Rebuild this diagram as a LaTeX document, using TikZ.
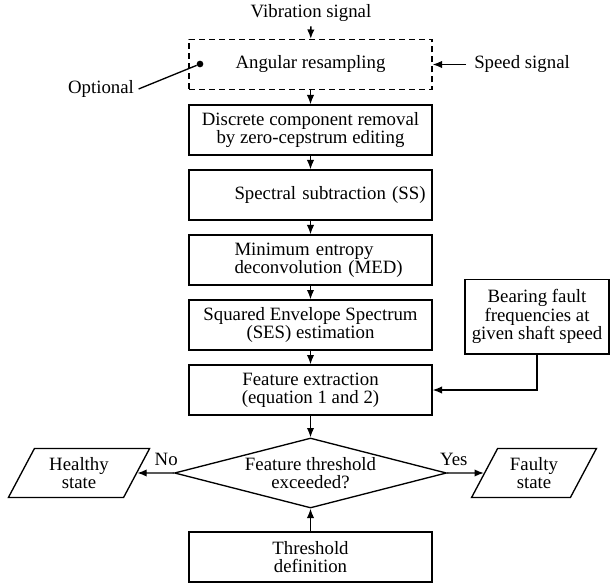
\documentclass[tikz,border=0pt]{standalone}
\usepackage{fontspec}
\setmainfont{Liberation Serif}
\usetikzlibrary{arrows.meta,shapes.geometric,positioning}

\begin{document}
\begin{tikzpicture}[x=0.75pt,y=-0.75pt,
every node/.style={font=\fontsize{14.1}{13.7}\selectfont},
stepbox/.style={draw,line width=1pt,minimum width=182.25pt,minimum height=37.5pt,align=center,inner sep=2pt},
optbox/.style={stepbox,dash pattern=on 4.5pt off 3pt},
leftbox/.style={stepbox,align=left,text width=178pt},
decision/.style={draw,line width=1pt,diamond,shape aspect=3.89,minimum width=204pt,minimum height=52.5pt,inner sep=0pt,align=center},
state/.style={draw,line width=1pt,trapezium,trapezium left angle=62,trapezium right angle=118,minimum width=94.5pt,minimum height=36.75pt,align=center,inner sep=1pt},
flow/.style={line width=1pt,-{Latex[length=7pt,width=5.5pt]}}
]
\fill[white] (0,0) rectangle (616,584);
\useasboundingbox (0,0) rectangle (616,584);

\node (vib) at (311,13) {Vibration signal};
\node[optbox] (ang) at (310.5,64.5) {Angular resampling};
\node[anchor=west,inner xsep=6pt] (speed) at (466,64.5) {Speed signal};
\node (opt) at (101,89) {Optional};
\node[circle,fill,inner sep=0pt,minimum size=5pt] (pin) at (200,64) {};
\node[stepbox] (disc) at (310.5,130) {Discrete component removal\\by zero-cepstrum editing};
\node[leftbox] (ss) at (310.5,195) {\hspace*{32pt}\mbox{Spectral subtraction (SS)}};
\node[leftbox] (med) at (310.5,260) {\hspace*{32pt}\mbox{Minimum entropy}\\\hspace*{32pt}\mbox{deconvolution (MED)}};
\node[stepbox] (ses) at (310.5,325) {Squared Envelope Spectrum\\(SES) estimation};
\node[stepbox] (feat) at (310.5,390) {Feature extraction\\(equation 1 and 2)};
\node[stepbox,minimum width=108pt,minimum height=56pt] (bear) at (537,316.5) {Bearing fault\\frequencies at\\given shaft speed};
\node[decision] (dec) at (310.5,473) {Feature threshold\\exceeded?};
\node[stepbox] (thr) at (310.5,557) {Threshold\\definition};
\node[state] (healthy) at (79,473) {Healthy\\state};
\node[state] (faulty) at (534,473) {Faulty\\state};

\path[flow] (vib) edge (ang)
	(speed) edge (ang)
	(ang) edge (disc)
	(disc) edge (ss)
	(ss) edge (med)
	(med) edge (ses)
	(ses) edge (feat)
	(feat) edge (dec)
	(thr) edge (dec)
	(dec) edge node[above=2pt,pos=.21] (no) {No} (healthy)
	(dec) edge node[above=2pt,pos=.18] (yes) {Yes} (faulty);
\draw[flow] (bear) |- (feat);
\draw[line width=1pt] (opt.east) -- (pin);
\end{tikzpicture}
\end{document}
